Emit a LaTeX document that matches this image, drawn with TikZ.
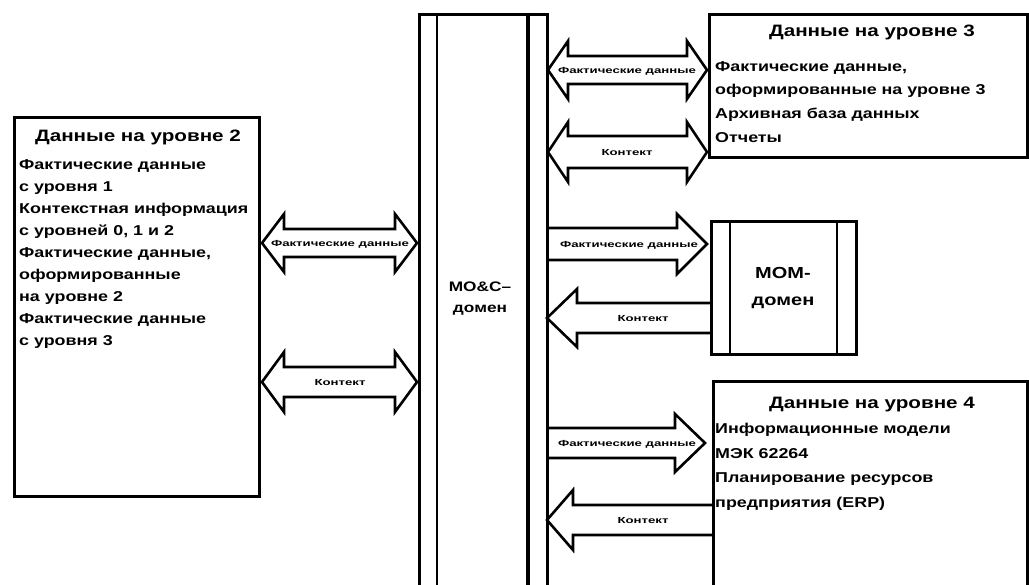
\documentclass[tikz,border=0pt]{standalone}
\usepackage{fontspec}
\setmainfont{Liberation Sans}[BoldFont={Liberation Sans Bold}]
\newfontfamily\bodyf[FakeStretch=1.25]{Liberation Sans Bold}
\newfontfamily\smallf[FakeStretch=1.5]{Liberation Sans Bold}
\tikzset{
  box/.style={draw, line width=2.6pt},
  arr/.style={draw, line width=2.6pt, line join=miter},
  title/.style={font=\bodyf\fontsize{16.5}{18}\selectfont, inner sep=0pt},
  body/.style={font=\bodyf\fontsize{14.3}{22}\selectfont, inner sep=0pt, anchor=north west, align=left},
  albl/.style={font=\smallf\fontsize{8.8}{10}\selectfont, inner sep=0pt},
  dom/.style={font=\bodyf\fontsize{13.8}{21}\selectfont, inner sep=0pt, align=center}
}
% double arrow: x1, x2, yc, shaft half, head half, head length
\newcommand{\DArrow}[6]{%
  \draw[arr] (#1,#3) -- (#1+#6,#3-#5) -- (#1+#6,#3-#4) -- (#2-#6,#3-#4) -- (#2-#6,#3-#5)
    -- (#2,#3) -- (#2-#6,#3+#5) -- (#2-#6,#3+#4) -- (#1+#6,#3+#4) -- (#1+#6,#3+#5) -- cycle;}
% right arrow: tail x, tip x, yc, shaft half, head half, head length (open tail)
\newcommand{\RArrow}[6]{%
  \draw[arr] (#1,#3-#4) -- (#2-#6,#3-#4) -- (#2-#6,#3-#5) -- (#2,#3) -- (#2-#6,#3+#5) -- (#2-#6,#3+#4) -- (#1,#3+#4);}
% left arrow: tail x, tip x (tip < tail)
\newcommand{\LArrow}[6]{%
  \draw[arr] (#1,#3-#4) -- (#2+#6,#3-#4) -- (#2+#6,#3-#5) -- (#2,#3) -- (#2+#6,#3+#5) -- (#2+#6,#3+#4) -- (#1,#3+#4);}
\begin{document}
\begin{tikzpicture}[x=1pt,y=-1pt]
\useasboundingbox (0,0) rectangle (1029,585);
\begin{scope}
\clip (0,0) rectangle (1029,585);
% central column
\node[box, minimum width=128pt, minimum height=600pt, anchor=north west, inner sep=0pt] (mo) at (418,13) {};
\draw[line width=2.6pt] (437,13) -- (437,600);
\draw[line width=4.5pt] (528,13) -- (528,600);
\node[dom] (molbl) at (480,299) {МО\&С–\\домен};
% left box
\node[box, minimum width=245pt, minimum height=379pt, anchor=north west, inner sep=0pt] (l2) at (13,116) {};
\node[title] (l2t) at (138,137) {Данные на уровне 2};
\node[body] (l2b) at (19,159) {Фактические данные\\с уровня 1\\Контекстная информация\\с уровней 0, 1 и 2\\Фактические данные,\\оформированные\\на уровне 2\\Фактические данные\\с уровня 3};
% level 3 box
\node[box, minimum width=318pt, minimum height=143pt, anchor=north west, inner sep=0pt] (l3) at (708,13) {};
\node[title] (l3t) at (872,32) {Данные на уровне 3};
\node[body, font=\bodyf\fontsize{14.3}{23.7}\selectfont] (l3b) at (715,61) {Фактические данные,\\оформированные на уровне 3\\Архивная база данных\\Отчеты};
% MOM box
\node[box, minimum width=145pt, minimum height=133pt, anchor=north west, inner sep=0pt] (mom) at (710,220) {};
\draw[line width=2.6pt] (730,220) -- (730,353);
\draw[line width=2.6pt] (837,220) -- (837,353);
\node[dom, font=\bodyf\fontsize{16}{27}\selectfont] (momlbl) at (783,288) {МОМ-\\домен};
% level 4 box
\node[box, minimum width=314pt, minimum height=230pt, anchor=north west, inner sep=0pt] (l4) at (712,380) {};
\node[title] (l4t) at (872,405) {Данные на уровне 4};
\node[body, font=\bodyf\fontsize{14.3}{24.7}\selectfont] (l4b) at (715,423) {Информационные модели\\МЭК 62264\\Планирование ресурсов\\предприятия (ERP)};
\end{scope}
% arrows
\DArrow{262}{417}{243}{14}{29}{22}
\node[albl] (a1) at (340,244) {Фактические данные};
\DArrow{262}{417}{382}{15}{30}{22}
\node[albl] (a2) at (340,383) {Контект};
\DArrow{548}{707}{70}{14}{29}{20}
\node[albl] (a3) at (627,71) {Фактические данные};
\DArrow{548}{707}{152}{16}{30}{20}
\node[albl] (a4) at (627,153) {Контект};
\RArrow{546}{707}{244}{16}{30}{30}
\node[albl] (a5) at (629,245) {Фактические данные};
\LArrow{710}{547}{318}{15}{29}{30}
\node[albl] (a6) at (643,319) {Контект};
\RArrow{546}{705}{443}{15}{29}{30}
\node[albl] (a7) at (627,444) {Фактические данные};
\LArrow{712}{547}{520}{15}{30}{26}
\node[albl] (a8) at (643,521) {Контект};
\end{tikzpicture}
\end{document}
